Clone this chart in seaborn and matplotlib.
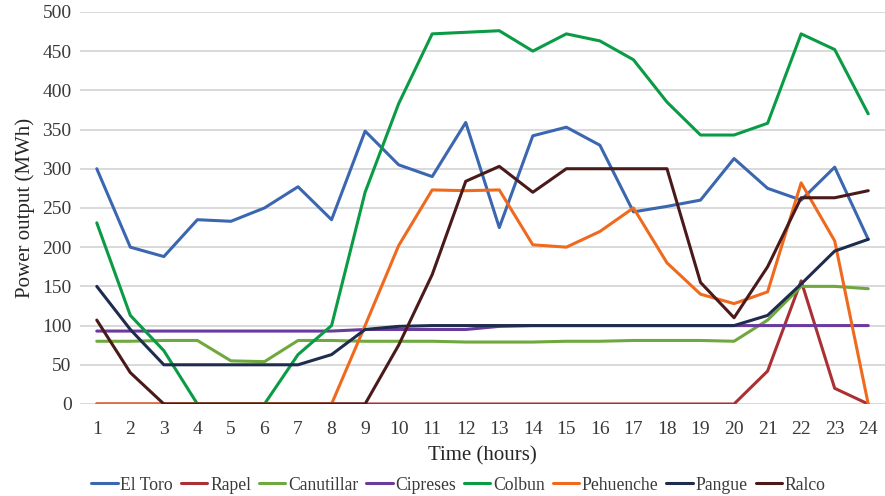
import numpy as np
import pandas as pd
import matplotlib
matplotlib.use("Agg")
import matplotlib.pyplot as plt
import seaborn as sns

hours = list(range(1, 25))

el_toro = [300, 200, 188, 235, 233, 250, 277, 235, 348, 305, 290, 359,
           225, 342, 353, 330, 245, 252, 260, 313, 275, 260, 302, 210]
rapel = [0, 0, 0, 0, 0, 0, 0, 0, 0, 0, 0, 0,
         0, 0, 0, 0, 0, 0, 0, 0, 42, 157, 20, 0]
canutillar = [80, 80, 81, 81, 55, 54, 81, 81, 80, 80, 80, 79,
              79, 79, 80, 80, 81, 81, 81, 80, 107, 150, 150, 147]
cipreses = [93, 93, 93, 93, 93, 93, 93, 93, 95, 95, 95, 95,
            99, 100, 100, 100, 100, 100, 100, 100, 100, 100, 100, 100]
colbun = [231, 113, 68, 0, 0, 0, 63, 100, 270, 383, 472, 474,
          476, 450, 472, 463, 439, 385, 343, 343, 358, 472, 452, 370]
pehuenche = [0, 0, 0, 0, 0, 0, 0, 0, 100, 202, 273, 272,
             273, 203, 200, 220, 250, 180, 140, 128, 143, 282, 208, 0]
pangue = [150, 95, 50, 50, 50, 50, 50, 63, 95, 99, 100, 100,
          100, 100, 100, 100, 100, 100, 100, 100, 113, 153, 195, 210]
ralco = [107, 40, 0, 0, 0, 0, 0, 0, 0, 75, 165, 284,
         303, 270, 300, 300, 300, 300, 155, 110, 175, 263, 263, 272]

plants = ["El Toro", "Rapel", "Canutillar", "Cipreses",
          "Colbun", "Pehuenche", "Pangue", "Ralco"]
series = [el_toro, rapel, canutillar, cipreses, colbun, pehuenche, pangue, ralco]
colors = ["#3b66b0", "#ab3033", "#6fa83e", "#6a3a9c",
          "#0a9b45", "#f06a1e", "#1e2c4e", "#4a1a1a"]

df = pd.DataFrame({
    "hour": np.tile(hours, len(plants)),
    "output": np.concatenate(series),
    "plant": np.repeat(plants, len(hours)),
})

sns.set_theme(style="white")
plt.rcParams["font.family"] = ["Liberation Serif", "DejaVu Serif"]

fig = plt.figure(figsize=(8.85, 4.96), dpi=100)
ax = fig.add_axes([0.0904, 0.1855, 0.9096, 0.7905])

sns.lineplot(data=df, x="hour", y="output", hue="plant", hue_order=plants,
             palette=colors, linewidth=2.2, ax=ax, legend=True)

ax.set_xlim(0.5, 24.5)
ax.set_ylim(0, 500)
ax.set_xticks(hours)
ax.set_yticks(range(0, 501, 50))
ax.yaxis.grid(True, color="#d9d9d9", linewidth=1.4)
ax.xaxis.grid(False)
ax.set_axisbelow(True)
for s in ax.spines.values():
    s.set_visible(False)
ax.tick_params(axis="both", length=0, labelsize=14, colors="#3a3a3a", pad=6)
ax.tick_params(axis="x", pad=12)

ax.set_xlabel("Time (hours)", fontsize=15, color="#262626", labelpad=6)
ax.set_ylabel("Power output (MWh)", fontsize=15, color="#262626", labelpad=5)

ax.legend(loc="center", bbox_to_anchor=(0.47, -0.207), ncol=8,
          frameon=False, fontsize=12.7, handlelength=1.5, handletextpad=0.15,
          columnspacing=0.45, labelcolor="#3a3a3a", borderaxespad=0)

fig.savefig("out.png", dpi=100)
